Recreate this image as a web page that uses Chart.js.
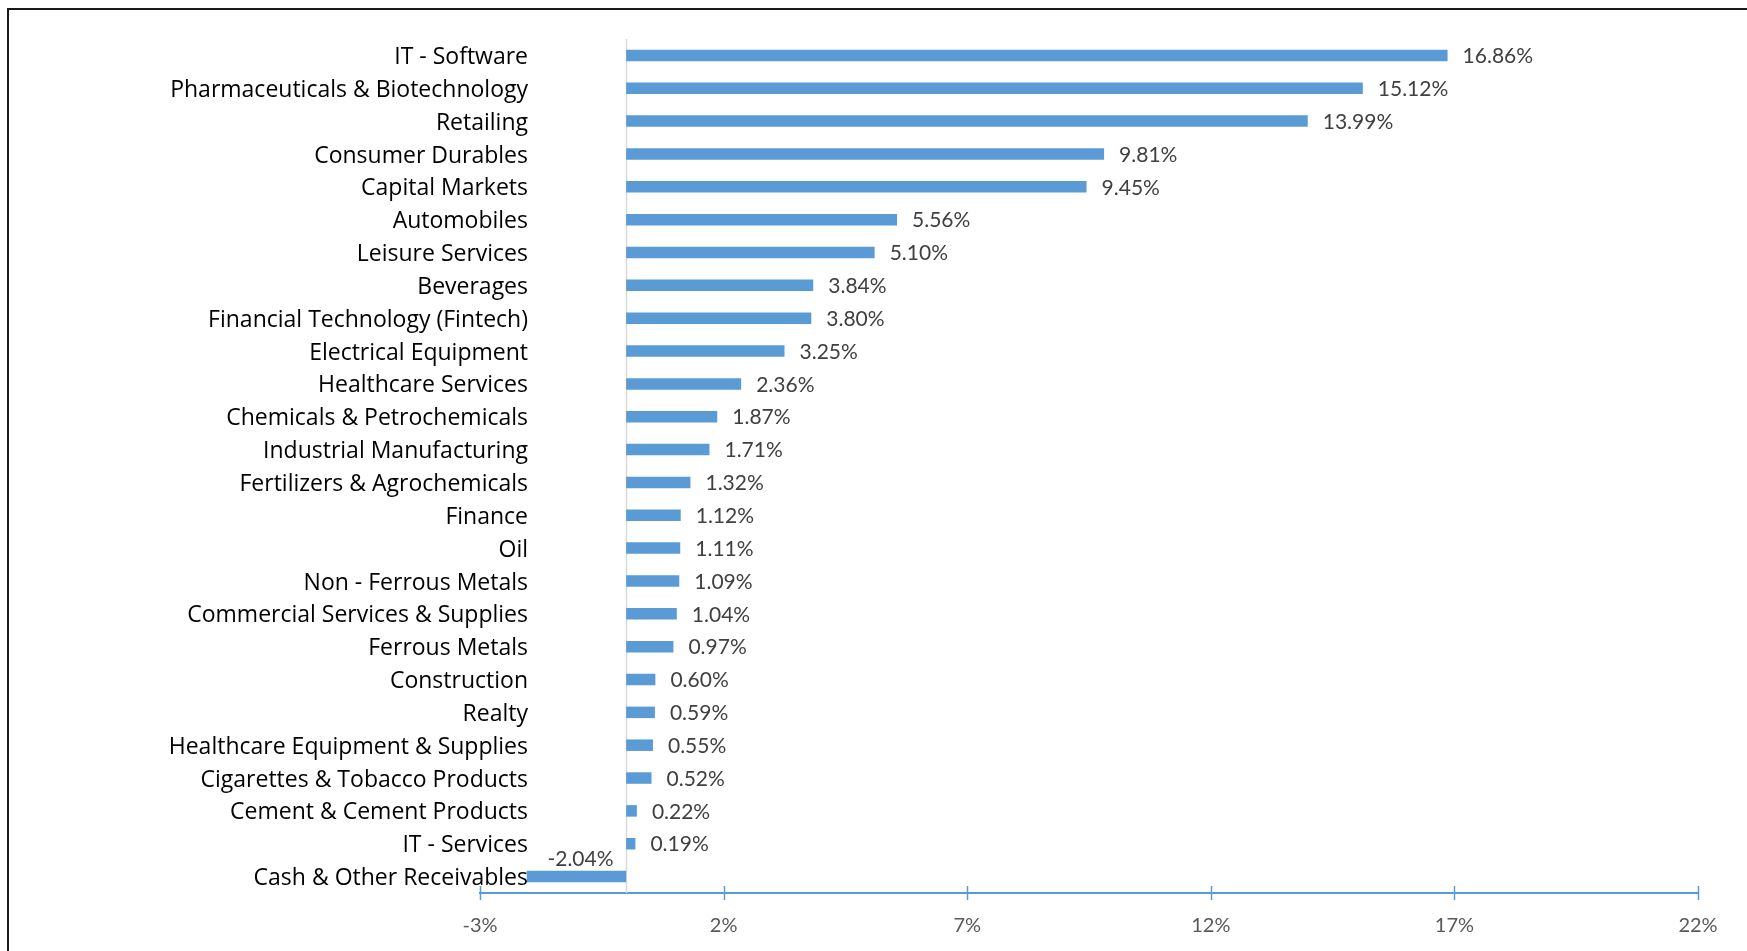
<!DOCTYPE html>
<html>
<head>
<meta charset="utf-8">
<script src="https://cdn.jsdelivr.net/npm/chart.js@4/dist/chart.umd.min.js"></script>
<style>
  html, body { margin: 0; padding: 0; background: #fff; overflow: hidden; }
  #wrap { position: relative; width: 1747px; height: 951px; }
  #frame { position: absolute; left: 7px; top: 8px; width: 2000px; height: 2000px;
           border-top: 2px solid #1a1a1a; border-left: 2px solid #1a1a1a; pointer-events: none; }
</style>
</head>
<body>
<div id="wrap">
  <canvas id="chart" width="1747" height="951"></canvas>
  <div id="frame"></div>
</div>
<script>
const sectors = [
  'IT - Software', 'Pharmaceuticals & Biotechnology', 'Retailing', 'Consumer Durables',
  'Capital Markets', 'Automobiles', 'Leisure Services', 'Beverages',
  'Financial Technology (Fintech)', 'Electrical Equipment', 'Healthcare Services',
  'Chemicals & Petrochemicals', 'Industrial Manufacturing', 'Fertilizers & Agrochemicals',
  'Finance', 'Oil', 'Non - Ferrous Metals', 'Commercial Services & Supplies',
  'Ferrous Metals', 'Construction', 'Realty', 'Healthcare Equipment & Supplies',
  'Cigarettes & Tobacco Products', 'Cement & Cement Products', 'IT - Services',
  'Cash & Other Receivables'
];
const weights = [
  16.86, 15.12, 13.99, 9.81, 9.45, 5.56, 5.10, 3.84, 3.80, 3.25, 2.36, 1.87, 1.71,
  1.32, 1.12, 1.11, 1.09, 1.04, 0.97, 0.60, 0.59, 0.55, 0.52, 0.22, 0.19, -2.04
];
const xTicks = [-3, 2, 7, 12, 17, 22];

const blue = '#5B9BD5';
const fontFamily = 'Lato, "Open Sans", sans-serif';
const catFont = '"Open Sans", Lato, sans-serif';

// grey line at 0, crossing tick marks, and category names (drawn past the axis box)
const axisExtras = {
  id: 'axisExtras',
  beforeDatasetsDraw(chart) {
    const ctx = chart.ctx;
    const x = chart.scales.x;
    const area = chart.chartArea;
    const x0 = Math.round(x.getPixelForValue(0)) + 0.5;
    ctx.save();
    ctx.strokeStyle = '#d9d9d9';
    ctx.lineWidth = 1.5;
    ctx.beginPath();
    ctx.moveTo(x0, area.top);
    ctx.lineTo(x0, area.bottom);
    ctx.stroke();
    ctx.restore();
  },
  afterDraw(chart) {
    const ctx = chart.ctx;
    const x = chart.scales.x;
    const y = chart.scales.y;
    const bottom = chart.chartArea.bottom;
    ctx.save();
    ctx.strokeStyle = blue;
    ctx.lineWidth = 1.5;
    x.ticks.forEach(t => {
      const px = Math.round(x.getPixelForValue(t.value)) + 0.5;
      ctx.beginPath();
      ctx.moveTo(px, bottom - 7);
      ctx.lineTo(px, bottom + 7);
      ctx.stroke();
    });
    ctx.font = '23px ' + catFont;
    ctx.fillStyle = '#000';
    ctx.textAlign = 'right';
    ctx.textBaseline = 'middle';
    const right = chart.chartArea.left + 48;
    sectors.forEach((s, i) => {
      ctx.fillText(s, right, y.getPixelForValue(i) + 2);
    });
    ctx.restore();
  }
};

// value labels next to the bars
const barLabels = {
  id: 'barLabels',
  afterDatasetsDraw(chart) {
    const ctx = chart.ctx;
    const meta = chart.getDatasetMeta(0);
    ctx.save();
    ctx.font = '21px ' + fontFamily;
    ctx.fillStyle = '#404040';
    ctx.textBaseline = 'middle';
    meta.data.forEach((bar, i) => {
      const v = weights[i];
      const txt = v.toFixed(2) + '%';
      if (v >= 0) {
        ctx.textAlign = 'left';
        ctx.fillText(txt, bar.x + 15, bar.y + 1);
      } else {
        ctx.textAlign = 'center';
        ctx.fillText(txt, (bar.x + bar.base) / 2 + 4, bar.y - 17);
      }
    });
    ctx.restore();
  }
};

new Chart(document.getElementById('chart'), {
  type: 'bar',
  data: {
    labels: sectors,
    datasets: [{
      data: weights,
      backgroundColor: blue,
      borderWidth: 0,
      barPercentage: 0.35,
      categoryPercentage: 1
    }]
  },
  options: {
    indexAxis: 'y',
    responsive: false,
    animation: false,
    layout: { padding: { top: 39, right: 49, left: 0, bottom: 0 } },
    plugins: { legend: { display: false }, tooltip: { enabled: false } },
    scales: {
      x: {
        min: -3,
        max: 22,
        afterBuildTicks(scale) {
          scale.ticks = xTicks.map(v => ({ value: v }));
        },
        afterFit(scale) { scale.height = 58; },
        grid: { display: false },
        border: { display: true, color: blue, width: 2 },
        ticks: {
          padding: 13,
          color: '#595959',
          font: { family: fontFamily, size: 20 },
          callback: v => v + '%'
        }
      },
      y: {
        afterFit(scale) { scale.width = 480; },
        grid: { display: false, drawTicks: false },
        border: { display: false },
        ticks: { display: false }
      }
    }
  },
  plugins: [axisExtras, barLabels]
});
</script>
</body>
</html>
